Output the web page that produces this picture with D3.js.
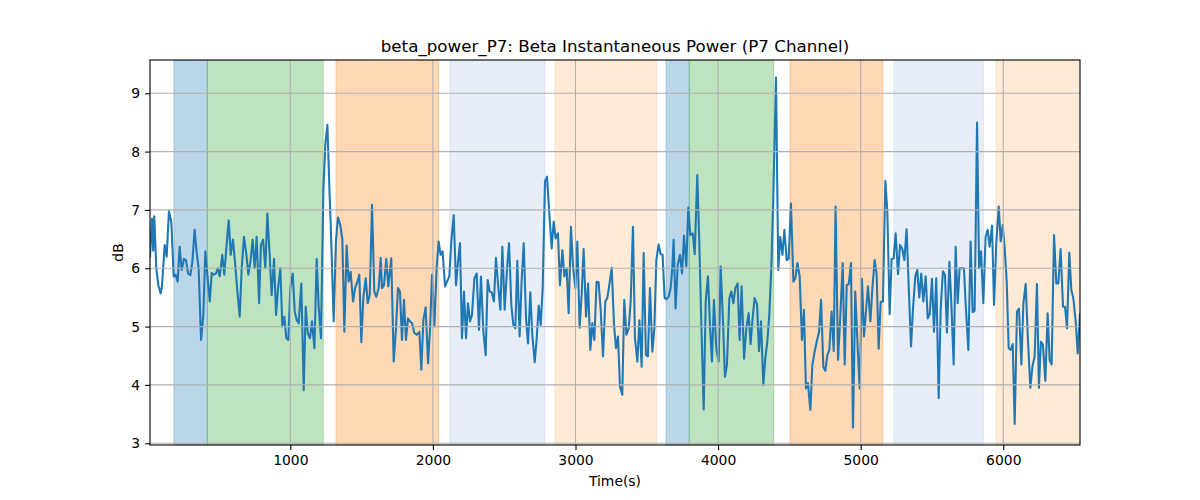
<!DOCTYPE html>
<html><head><meta charset="utf-8">
<script src="https://cdn.jsdelivr.net/npm/d3@7"></script>
<style>body{margin:0;background:#fff;} text{font-family:"DejaVu Sans",sans-serif;}</style>
</head><body><div id="chart"></div>
<script>
const titleText = "beta_power_P7: Beta Instantaneous Power (P7 Channel)";
const xLabel = "Time(s)";
const yLabel = "dB";
const xTicks = [1000, 2000, 3000, 4000, 5000, 6000];
const yTicks = [3, 4, 5, 6, 7, 8, 9];
// shaded segments [start, end, colour]
const spanStarts = [184, 418, 1320, 2120, 2856, 3635, 3798, 4504, 5233, 5949];
const spanEnds   = [418, 1231, 2041, 2786, 3569, 3798, 4390, 5156, 5862, 6560];
const spanColors = ["#1f77b4", "#2ca02c", "#ff7f0e", "#aec7e8", "#ffbb78", "#1f77b4", "#2ca02c", "#ff7f0e", "#aec7e8", "#ffbb78"];
const times = [16,30,38,46,60,75,91,100,119,133,149,166,182,196,210,224,238,254,268,283,299,313,329,343,357,374,390,404,418,435,449,463,479,491,505,523,537,551,568,582,598,612,629,645,659,675,692,706,720,736,750,764,781,794,809,825,839,
855,869,886,900,914,930,944,958,972,986,1000,1017,1031,1045,1059,1077,1094,1108,1122,1138,1152,1169,1185,1199,1215,1232,1246,1260,1274,1285,1304,1320,1334,1351,1365,1379,1395,1409,1423,1440,1454,1470,1484,1498,1512,1529,1543,1557,1573,1589,1603,1620,1634,
1643,1657,1673,1687,1708,1725,1741,1755,1769,1783,1797,1811,1825,1839,1853,1870,1886,1905,1919,1933,1949,1966,1980,1994,2010,2026,2040,2054,2068,2085,2099,2115,2129,2146,2162,2176,2190,2204,2218,2232,2246,2260,2274,2291,2307,2323,2337,2354,2370,2384,2398,2412,2428,2442,
2459,2473,2487,2503,2520,2534,2550,2564,2578,2592,2608,2622,2637,2653,2667,2683,2697,2714,2728,2742,2756,2770,2786,2800,2817,2833,2847,2861,2877,2891,2908,2922,2938,2952,2968,2982,2999,3013,3029,3043,3057,3074,3088,3104,3118,3132,3148,3162,3176,3193,3209,3223,3237,3254,
3270,3284,3298,3312,3328,3342,3357,3373,3387,3403,3417,3434,3448,3464,3478,3494,3508,3522,3539,3553,3567,3583,3597,3611,3625,3639,3653,3667,3679,3688,3702,3717,3733,3747,3761,3777,3791,3805,3822,3836,3854,3868,3882,3899,3913,3929,3943,3957,3971,3988,4004,4018,4034,4048,4062,
4079,4093,4107,4121,4137,4151,4165,4182,4198,4214,4228,4242,4256,4273,4287,4301,4317,4331,4345,4359,4373,4387,4406,4422,4436,4451,4465,4481,4495,4511,4528,4542,4556,4572,4588,4602,4616,4630,4647,4661,4677,4694,4708,4722,4738,4752,4766,4780,4796,4811,4824,4841,4857,4874,4888,
4902,4916,4932,4946,4962,4979,4993,5009,5023,5037,5051,5068,5082,5098,5112,5126,5140,5156,5173,5187,5203,5217,5231,5245,5262,5276,5292,5306,5322,5339,5353,5367,5383,5397,5411,5425,5439,5456,5470,5484,5500,5514,5530,5547,5561,5577,5591,5605,5622,5636,5652,5666,5680,5694,
5710,5724,5738,5755,5771,5785,5799,5816,5830,5844,5860,5876,5890,5904,5921,5935,5951,5968,5982,5996,6010,6024,6038,6052,6066,6080,6096,6110,6127,6141,6157,6173,6190,6204,6220,6236,6250,6264,6278,6295,6311,6325,6339,6356,6372,6386,6402,6419,6433,6447,6463,6477,6491,6508,6522,6538];
const values = [6.2,6.85,6.3,6.89,6.0,5.7,5.57,5.7,6.4,6.2,6.98,6.78,5.86,5.89,5.77,6.37,5.97,6.16,6.14,5.91,5.88,6.11,6.66,6.28,6.0,4.77,5.2,6.29,5.89,5.43,5.92,5.89,5.91,6.0,5.86,6.23,5.89,6.34,6.82,6.23,6.49,6.11,5.6,5.17,6.0,6.54,6.23,5.89,6.11,6.49,6.0,6.54,5.4,6.4,6.49,6.0,6.94,
6.23,5.54,6.16,5.2,5.66,6.0,5.0,5.17,4.8,4.77,5.66,5.91,5.26,5.11,5.06,5.74,3.91,5.34,4.89,4.8,5.09,4.63,6.16,5.34,4.8,7.37,8.14,8.46,7.37,6.63,5.09,6.46,6.87,6.74,6.49,4.91,6.39,5.77,5.94,5.43,5.66,5.77,5.89,4.73,5.49,5.83,5.4,5.54,7.09,5.6,5.51,5.66,6.18,
5.66,5.71,6.16,5.69,6.17,4.4,4.97,5.66,5.6,4.77,5.46,4.77,5.14,5.09,5.06,4.89,4.86,4.91,4.26,5.11,5.33,4.37,4.97,5.89,5.0,6.0,6.46,6.23,6.29,5.69,5.77,5.86,6.46,6.91,5.71,6.11,6.43,4.8,5.6,4.8,5.4,5.09,5.2,5.83,5.91,4.94,5.86,4.91,4.51,5.8,5.6,5.59,5.43,6.18,
5.66,5.29,6.37,5.29,6.0,6.43,5.37,5.03,4.97,6.13,4.83,5.77,6.43,5.14,4.71,5.59,4.86,4.39,4.8,5.36,5.03,5.66,7.49,7.57,6.91,6.34,6.8,6.51,6.6,5.71,6.31,5.86,6.0,5.23,6.71,6.06,5.66,6.46,4.98,5.54,6.33,5.17,5.74,4.6,5.06,4.77,5.77,5.76,5.31,4.49,5.43,5.49,5.71,6.01,
5.03,4.63,4.83,3.97,3.83,5.46,4.86,4.97,5.43,6.71,4.8,4.4,5.11,4.31,6.26,4.51,4.49,5.66,4.57,4.97,6.14,6.41,6.24,6.23,5.49,5.47,5.51,5.66,6.0,6.49,5.31,6.06,6.23,5.91,6.56,6.03,7.04,6.57,6.6,6.24,7.6,6.46,5.09,3.58,5.43,5.86,5.03,4.4,5.46,4.6,4.4,6.03,5.11,4.14,4.34,
5.49,5.6,5.4,5.66,5.74,4.77,5.69,4.45,4.97,5.23,4.7,5.14,5.49,5.38,4.58,5.09,4.0,4.46,4.74,5.2,6.0,7.2,9.27,5.97,6.54,6.23,6.66,6.14,6.16,7.11,5.77,5.83,6.09,5.86,4.77,5.29,3.94,4.03,3.57,4.34,4.57,4.77,4.91,5.46,4.31,4.24,4.51,4.6,5.26,4.58,7.06,4.43,5.17,6.09,4.35,
5.71,5.73,6.09,3.27,5.6,4.63,3.94,5.82,4.83,5.26,5.69,5.09,5.66,6.14,5.89,4.62,5.42,5.43,7.5,6.97,5.21,6.16,6.17,6.6,5.9,6.4,6.33,6.14,6.67,5.54,4.66,5.31,5.86,5.97,5.5,5.91,5.43,5.86,5.14,5.21,5.82,4.91,5.83,3.77,5.31,5.95,5.89,4.9,6.11,5.37,4.35,6.37,5.4,6.0,
6.0,6.0,5.31,4.6,6.46,5.25,5.27,8.5,6.0,6.29,5.4,6.54,6.66,6.37,6.73,5.37,6.43,7.06,6.46,6.74,6.34,5.77,4.63,4.6,4.7,3.33,5.26,5.31,4.35,5.4,5.73,4.77,3.95,4.31,4.49,5.73,3.95,4.74,4.69,4.07,5.23,4.43,4.35,6.57,5.74,5.74,6.33,5.34,5.34,4.97,6.27,5.63,5.49,5.09,4.54,5.21];

const W = 1200, H = 500;
const m = {left: 150, right: 1080, top: 60, bottom: 445};
const svg = d3.select("#chart").append("svg").attr("width", W).attr("height", H);
const x = d3.scaleLinear().domain([16, 6538]).range([m.left, m.right]);
const yMin = d3.min(values), yMax = d3.max(values), pad = (yMax - yMin) * 0.05;
const y = d3.scaleLinear().domain([yMin - pad, yMax + pad]).range([m.bottom, m.top]);

svg.append("clipPath").attr("id", "clip").append("rect")
  .attr("x", m.left).attr("y", m.top).attr("width", m.right - m.left).attr("height", m.bottom - m.top);
const plot = svg.append("g").attr("clip-path", "url(#clip)");

// spans
plot.selectAll("rect.span").data(spanStarts.map((s, i) => ({s, e: spanEnds[i], c: spanColors[i]})))
  .enter().append("rect").attr("class", "span")
  .attr("x", d => x(d.s)).attr("width", d => x(d.e) - x(d.s))
  .attr("y", m.top).attr("height", m.bottom - m.top)
  .attr("fill", d => d.c).attr("fill-opacity", 0.3)
  .attr("stroke", d => d.c).attr("stroke-opacity", 0.3).attr("stroke-width", 1);

// grid
const grid = svg.append("g");
grid.selectAll("line.gx").data(xTicks).enter().append("line")
  .attr("x1", d => x(d)).attr("x2", d => x(d)).attr("y1", m.top).attr("y2", m.bottom)
  .attr("stroke", "#b0b0b0").attr("stroke-width", 1.1);
grid.selectAll("line.gy").data(yTicks).enter().append("line")
  .attr("y1", d => y(d)).attr("y2", d => y(d)).attr("x1", m.left).attr("x2", m.right)
  .attr("stroke", "#b0b0b0").attr("stroke-width", 1.1);

// line
const line = d3.line().x((d, i) => x(times[i])).y(d => y(d));
plot.append("path").datum(values).attr("d", line)
  .attr("fill", "none").attr("stroke", "#1f77b4").attr("stroke-width", 2.08)
  .attr("stroke-linejoin", "round").attr("stroke-linecap", "square");

// axes
const xAxis = d3.axisBottom(x).tickValues(xTicks).tickSize(4.9).tickPadding(4.9).tickFormat(d3.format("d"));
const yAxis = d3.axisLeft(y).tickValues(yTicks).tickSize(4.9).tickPadding(4.9).tickFormat(d3.format("d"));
const gx = svg.append("g").attr("transform", `translate(0,${m.bottom})`).call(xAxis);
const gy = svg.append("g").attr("transform", `translate(${m.left},0)`).call(yAxis);
[gx, gy].forEach(g => {
  g.select(".domain").remove();
  g.selectAll(".tick line").attr("stroke", "#000").attr("stroke-width", 1.1);
  g.selectAll(".tick text").attr("fill", "#000").style("font-size", "13.9px").style("font-family", "DejaVu Sans");
});

// frame
svg.append("rect").attr("x", m.left).attr("y", m.top).attr("width", m.right - m.left).attr("height", m.bottom - m.top)
  .attr("fill", "none").attr("stroke", "#000").attr("stroke-width", 1.1);

svg.append("text").attr("x", (m.left + m.right) / 2).attr("y", 52).attr("text-anchor", "middle")
  .style("font-size", "16.7px").text(titleText);
svg.append("text").attr("x", (m.left + m.right) / 2).attr("y", 486).attr("text-anchor", "middle")
  .style("font-size", "13.9px").text(xLabel);
svg.append("text").attr("transform", `translate(123,${(m.top + m.bottom) / 2}) rotate(-90)`).attr("text-anchor", "middle")
  .style("font-size", "13.9px").text(yLabel);
</script>
</body></html>
